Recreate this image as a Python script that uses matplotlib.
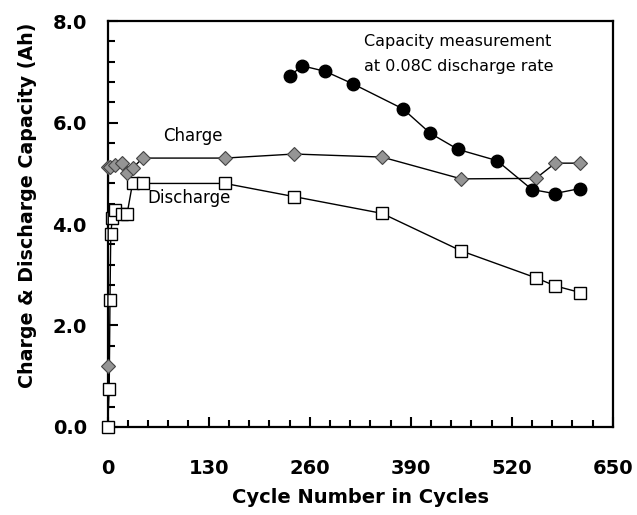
import numpy as np
import matplotlib
matplotlib.use('Agg')
import matplotlib.pyplot as plt
from matplotlib.ticker import MultipleLocator, FormatStrFormatter

# discharge capacity (open squares)
dis_cycle = [0, 2, 3, 4, 6, 9, 19, 25, 32, 45, 151, 240, 353, 455, 551, 576, 608]
dis_cap = [0.0, 0.74, 2.5, 3.8, 4.11, 4.28, 4.2, 4.2, 4.8, 4.8, 4.8, 4.54, 4.21, 3.47, 2.94, 2.78, 2.65]

# charge capacity (grey diamonds)
chg_cycle = [0, 1, 3, 9, 19, 25, 32, 45, 151, 240, 353, 455, 551, 576, 608]
chg_cap = [1.21, 5.12, 5.12, 5.16, 5.2, 5.0, 5.1, 5.3, 5.3, 5.38, 5.32, 4.89, 4.9, 5.2, 5.2]

# capacity measured at 0.08C (filled circles)
meas_cycle = [235, 250, 280, 316, 380, 415, 451, 501, 546, 575, 608]
meas_cap = [6.92, 7.12, 7.01, 6.76, 6.27, 5.79, 5.47, 5.25, 4.68, 4.6, 4.7]

fig = plt.figure(figsize=(6.37, 5.15), dpi=100)
ax = fig.add_axes([0.169, 0.171, 0.793, 0.788])

ax.plot(dis_cycle, dis_cap, color='black', lw=1, marker='s', ms=8,
        mfc='white', mec='black', mew=1, clip_on=False, zorder=3)
ax.plot(chg_cycle, chg_cap, color='black', lw=1, marker='D', ms=7,
        mfc='#959595', mec='#444444', mew=0.8, clip_on=False, zorder=3)
ax.plot(meas_cycle, meas_cap, color='black', lw=1, marker='o', ms=9,
        mfc='black', mec='black', clip_on=False, zorder=3)

ax.text(72, 5.73, 'Charge', fontsize=12, va='center', ha='left')
ax.text(105, 4.52, 'Discharge', fontsize=12, va='center', ha='center')
ax.text(330, 7.6, 'Capacity measurement', fontsize=11.5, va='center', ha='left')
ax.text(330, 7.11, 'at 0.08C discharge rate', fontsize=11.5, va='center', ha='left')

ax.set_xlim(0, 650)
ax.set_ylim(0, 8)
ax.xaxis.set_major_locator(MultipleLocator(130))
ax.xaxis.set_minor_locator(MultipleLocator(26))
ax.yaxis.set_major_locator(MultipleLocator(2))
ax.yaxis.set_minor_locator(MultipleLocator(0.4))
ax.yaxis.set_major_formatter(FormatStrFormatter('%.1f'))

ax.tick_params(which='both', direction='in', top=False, right=False, width=1.5)
ax.tick_params(which='major', length=7, labelsize=14)
ax.tick_params(axis='x', which='major', pad=23)
ax.tick_params(axis='y', which='major', pad=15)
ax.tick_params(which='minor', length=5)
for lab in ax.get_xticklabels() + ax.get_yticklabels():
    lab.set_fontweight('bold')
for s in ax.spines.values():
    s.set_linewidth(1.6)

ax.set_xlabel('Cycle Number in Cycles', fontsize=14, fontweight='bold', labelpad=7)
ax.set_ylabel('Charge & Discharge Capacity (Ah)', fontsize=13.7, fontweight='bold')
ax.yaxis.set_label_coords(-0.14, 0.547)

fig.savefig('out.png', dpi=100)
